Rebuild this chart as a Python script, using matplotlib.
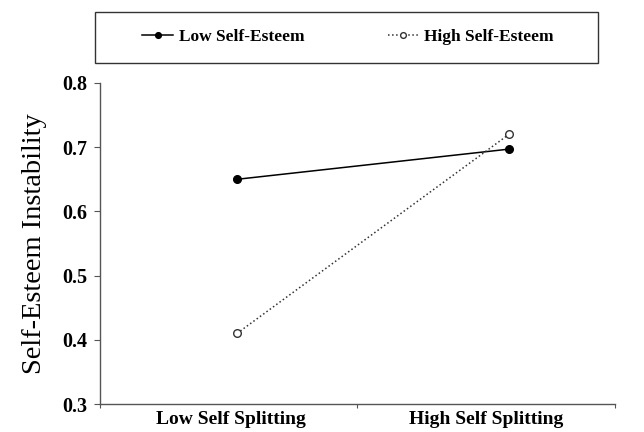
import numpy as np
import matplotlib.pyplot as plt
import matplotlib.transforms as mtransforms
from matplotlib.patches import Rectangle

# Datos
categorias = ['Low Self Splitting', 'High Self Splitting']
low_self_esteem = [0.65, 0.697]
high_self_esteem = [0.41, 0.72]
y_ticks = [0.3, 0.4, 0.5, 0.6, 0.7, 0.8]

plt.rcParams['font.family'] = ['Liberation Serif', 'DejaVu Serif']

fig = plt.figure(figsize=(6.44, 4.32), dpi=100)
ax = fig.add_axes([100 / 644, 28 / 432, 515 / 644, 321 / 432])

x = np.arange(len(categorias))
ax.plot(x, low_self_esteem, '-', color='black', lw=1.1,
        marker='o', markersize=5.5, markerfacecolor='black',
        markeredgecolor='black', label='Low Self-Esteem')
ax.plot(x, high_self_esteem, ':', color='#333333', lw=1.1,
        marker='o', markersize=5.5, markerfacecolor='white',
        markeredgecolor='#333333', markeredgewidth=1.0,
        label='High Self-Esteem')

# ejes
ax.set_ylim(0.3, 0.8)
ax.set_yticks(y_ticks)
ax.set_yticklabels([f'{v:.1f}' for v in y_ticks], fontweight='bold', fontsize=14.5)
ax.set_xlim(-0.504, 1.39)
ax.set_xticks([-0.504, 0.441, 1.39])
ax.set_xticklabels([])
ax.set_xticks(x, minor=True)
ax.set_xticklabels(categorias, minor=True, fontweight='bold', fontsize=14)
ax.tick_params(axis='x', which='minor', length=0, pad=5)
ax.tick_params(axis='x', which='major', length=3, color='#555555')
ax.tick_params(axis='y', length=4, color='#555555', pad=5)

# desplazar etiquetas hacia el centro de cada categoria
desplazamientos = [-6, -23]
for lbl, dx in zip(ax.get_xticklabels(minor=True), desplazamientos):
    lbl.set_transform(lbl.get_transform() +
                      mtransforms.ScaledTranslation(dx / 100, 0, fig.dpi_scale_trans))

for s in ['top', 'right']:
    ax.spines[s].set_visible(False)
for s in ['left', 'bottom']:
    ax.spines[s].set_color('#555555')
    ax.spines[s].set_linewidth(1.0)

ax.set_ylabel('Self-Esteem Instability', fontsize=20.5, labelpad=11)

# leyenda con caja
fig.patches.append(Rectangle((95 / 644, 1 - 63 / 432), 503 / 644, 51 / 432,
                             transform=fig.transFigure, fill=False,
                             edgecolor='#333333', lw=1.0))
fig.legend(loc='center', bbox_to_anchor=(348 / 644, 1 - 37 / 432), ncol=2,
           frameon=False, prop={'weight': 'bold', 'size': 12.5},
           handlelength=1.8, handletextpad=0.3, columnspacing=4.8,
           markerscale=0.75)

fig.savefig('out.png', dpi=100)
